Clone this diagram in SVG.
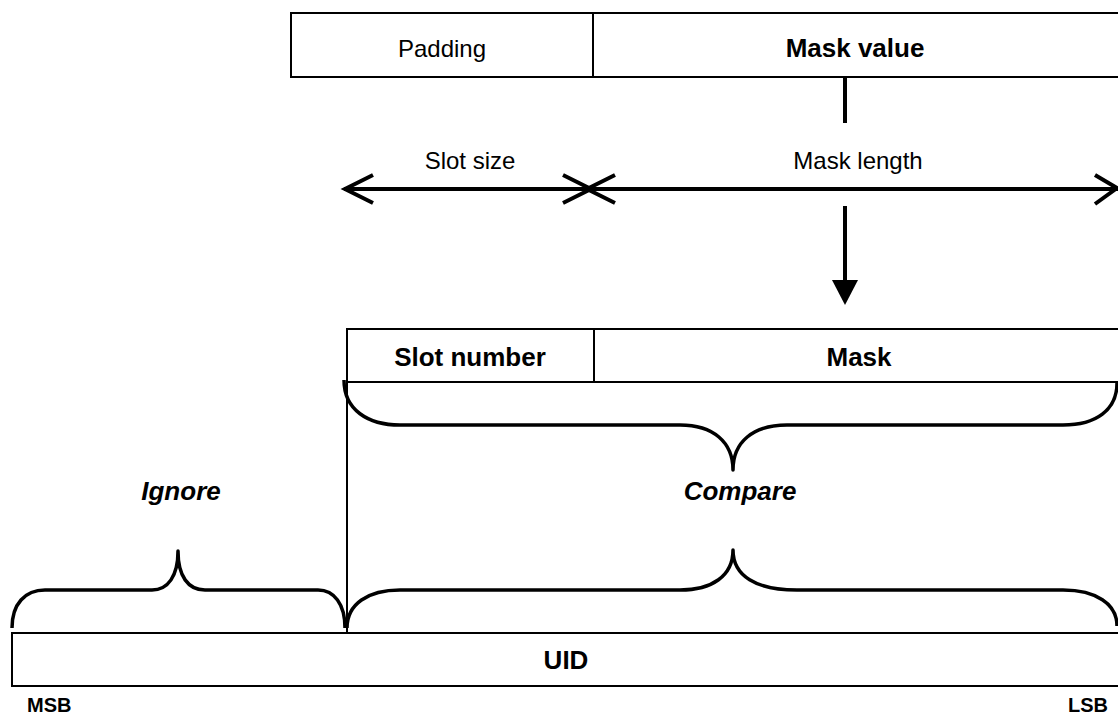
<svg xmlns="http://www.w3.org/2000/svg" width="1118" height="715" viewBox="0 0 1118 715">
  <style>
    .box { fill: #fff; stroke: #000; stroke-width: 2; }
    .sep { stroke: #000; stroke-width: 2; }
    .thick { fill: none; stroke: #000; stroke-width: 4; }
    .brace { fill: none; stroke: #000; stroke-width: 3.5; stroke-linejoin: round; }
    .reg { font-family: "Liberation Sans", Arial, sans-serif; font-size: 24px; fill: #000; }
    .bold { font-family: "Liberation Sans", Arial, sans-serif; font-size: 26px; font-weight: bold; fill: #000; }
    .ital { font-family: "Liberation Sans", Arial, sans-serif; font-size: 26px; font-weight: bold; font-style: italic; fill: #000; }
    .small { font-family: "Liberation Sans", Arial, sans-serif; font-size: 20px; font-weight: bold; fill: #000; }
  </style>

  <!-- mask value register -->
  <g id="mask-value-register">
    <rect class="box" x="291" y="13" width="840" height="64"/>
    <line class="sep" x1="593" y1="13" x2="593" y2="77"/>
    <text class="reg" x="442" y="57" text-anchor="middle" font-size="26">Padding</text>
    <text class="bold" x="855" y="57" text-anchor="middle" font-size="25">Mask value</text>
  </g>

  <!-- slot number / mask register -->
  <g id="slot-mask-register">
    <rect class="box" x="347" y="329" width="784" height="53"/>
    <line class="sep" x1="594" y1="329" x2="594" y2="382"/>
    <text class="bold" x="470" y="366" text-anchor="middle">Slot number</text>
    <text class="bold" x="859" y="366" text-anchor="middle">Mask</text>
  </g>

  <!-- UID register -->
  <g id="uid-register">
    <rect class="box" x="12" y="633" width="1119" height="53"/>
    <text class="bold" x="566" y="669" text-anchor="middle" font-size="25">UID</text>
    <text class="small" x="27" y="712">MSB</text>
    <text class="small" x="1108" y="712" text-anchor="end">LSB</text>
  </g>

  <!-- dimension labels -->
  <g id="slot-size-label">
    <text class="reg" x="470" y="169" text-anchor="middle">Slot size</text>
  </g>
  <g id="mask-length-label">
    <text class="reg" x="858" y="169" text-anchor="middle">Mask length</text>
  </g>

  <!-- region labels -->
  <g id="ignore-label">
    <text class="ital" x="181" y="500" text-anchor="middle">Ignore</text>
  </g>
  <g id="compare-label">
    <text class="ital" x="740" y="500" text-anchor="middle">Compare</text>
  </g>

  <g id="connectors">
    <!-- mask value feeds down into the mask field -->
    <line class="thick" x1="845" y1="77" x2="845" y2="123"/>
    <line class="thick" x1="845" y1="206" x2="845" y2="282"/>
    <polygon points="832,280 858,280 845,305" fill="#000"/>

    <!-- dimension line with open arrowheads -->
    <line class="thick" x1="344" y1="189" x2="1118" y2="189"/>
    <polyline class="thick" points="373,175 345,189 373,203"/>
    <polyline class="thick" points="563,175 591,189 563,203"/>
    <polyline class="thick" points="615,175 587,189 615,203"/>
    <polyline class="thick" points="1095,175 1117,188 1095,204"/>

    <!-- boundary between ignored and compared bits -->
    <line class="sep" x1="347" y1="382" x2="347" y2="633"/>

    <!-- brace under slot number + mask -->
    <path class="brace" d="M344,380 C344,410 368,425 400,425 L680,425 C713,425 733,442 733,470 C733,442 753,425 787,425 L1063,425 C1096,425 1117,410 1117,383"/>

    <!-- brace over compared UID bits -->
    <path class="brace" d="M347,628 C347,604 368,590 400,590 L680,590 C712,590 733,576 733,550 C733,576 756,590 797,590 L1063,590 C1096,590 1117,604 1117,626"/>

    <!-- brace over ignored UID bits -->
    <path class="brace" d="M12,628 C12,604 25,590 45,590 L152,590 C168,590 178,576 178,551 C178,576 188,590 205,590 L318,590 C334,590 345,604 345,628"/>
  </g>
</svg>
